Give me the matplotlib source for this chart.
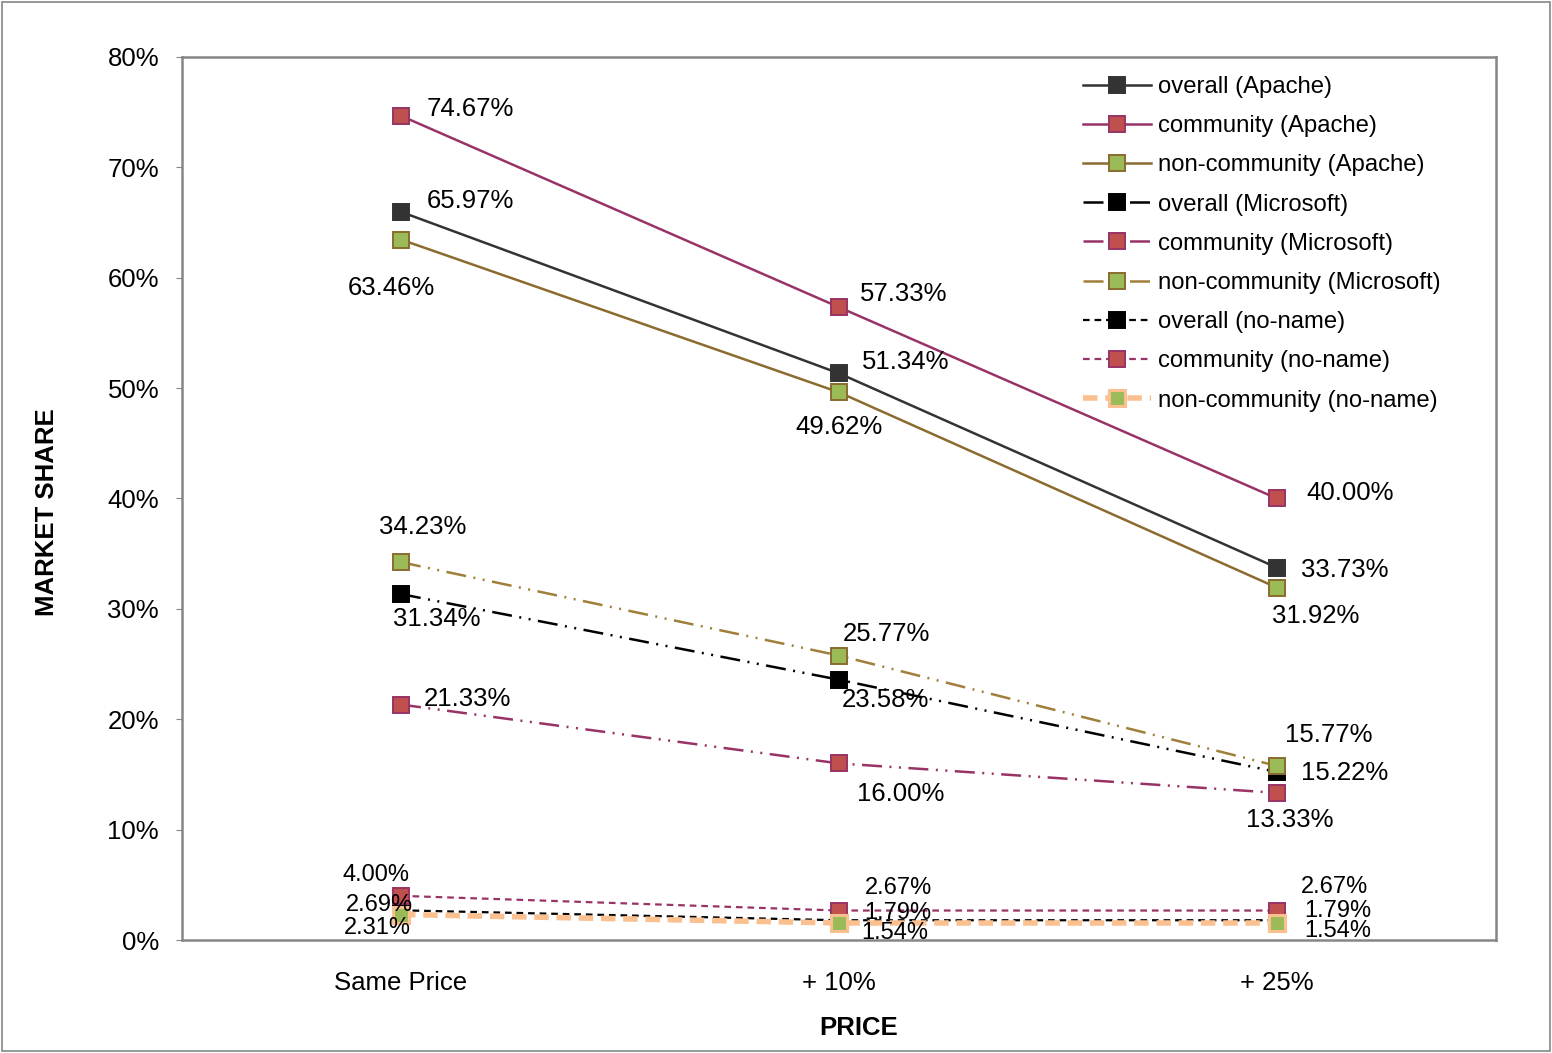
import matplotlib
matplotlib.use("Agg")
import matplotlib.pyplot as plt
from matplotlib.patches import Rectangle

plt.rcParams['font.family'] = ['Liberation Sans', 'DejaVu Sans']

categories = ["Same Price", "+ 10%", "+ 25%"]
series_names = ["overall (Apache)", "community (Apache)", "non-community (Apache)",
                "overall (Microsoft)", "community (Microsoft)", "non-community (Microsoft)",
                "overall (no-name)", "community (no-name)", "non-community (no-name)"]
overall_apache = [65.97, 51.34, 33.73]
community_apache = [74.67, 57.33, 40.00]
noncommunity_apache = [63.46, 49.62, 31.92]
overall_ms = [31.34, 23.58, 15.22]
community_ms = [21.33, 16.00, 13.33]
noncommunity_ms = [34.23, 25.77, 15.77]
overall_noname = [2.69, 1.79, 1.79]
community_noname = [4.00, 2.67, 2.67]
noncommunity_noname = [2.31, 1.54, 1.54]
values = [overall_apache, community_apache, noncommunity_apache,
          overall_ms, community_ms, noncommunity_ms,
          overall_noname, community_noname, noncommunity_noname]

dd = (0, (8, 3, 0.8, 3, 0.8, 3))
styles = [
    dict(color="#333333", ls="-", lw=1.8, mfc="#333333", mec="#333333", mew=1.4),
    dict(color="#993366", ls="-", lw=1.8, mfc="#C0504D", mec="#993366", mew=1.4),
    dict(color="#8B6B2E", ls="-", lw=1.8, mfc="#9BBB59", mec="#8B6B2E", mew=1.4),
    dict(color="#000000", ls=dd, lw=1.8, mfc="#000000", mec="#000000", mew=1.4),
    dict(color="#993366", ls=dd, lw=1.8, mfc="#C0504D", mec="#993366", mew=1.4),
    dict(color="#A07F3A", ls=dd, lw=1.8, mfc="#9BBB59", mec="#8B6B2E", mew=1.4),
    dict(color="#000000", ls=(0, (3, 2.2)), lw=1.6, mfc="#000000", mec="#000000", mew=1.4),
    dict(color="#993366", ls=(0, (3, 2.2)), lw=1.6, mfc="#C0504D", mec="#993366", mew=1.4),
    dict(color="#FAC090", ls=(0, (2.6, 1.4)), lw=4.0, mfc="#9BBB59", mec="#FAC090", mew=2.2),
]

# label offsets in pixels (ha, dx, dy) and font size
offsets = [
    [("left", 26, 11, 18.5), ("left", 23, 11, 18.5), ("left", 24, -2, 18.5)],
    [("left", 26, 7, 18.5), ("left", 21, 13, 18.5), ("left", 29, 5, 18.5)],
    [("center", -10, -48, 18.5), ("center", 0, -35, 18.5), ("center", 39, -28, 18.5)],
    [("center", 36, -25, 18.5), ("center", 46, -20, 18.5), ("left", 24, -1, 18.5)],
    [("left", 23, 6, 18.5), ("center", 62, -31, 18.5), ("center", 13, -27, 18.5)],
    [("center", 22, 35, 18.5), ("center", 47, 22, 18.5), ("center", 52, 31, 18.5)],
    [("center", -22, 5, 17), ("center", 59, 7, 17), ("center", 61, 9, 17)],
    [("center", -25, 21, 17), ("center", 59, 23, 17), ("center", 58, 24, 17)],
    [("center", -24, -13, 17), ("center", 56, -10, 17), ("center", 61, -8, 17)],
]

fig = plt.figure(figsize=(15.52, 10.53), dpi=100)
ax = fig.add_axes([182 / 1552, 1 - 940 / 1053, 1314 / 1552, 883 / 1053])
x = list(range(len(categories)))

for name, vals, st, offs in zip(series_names, values, styles, offsets):
    ax.plot(x, vals, color=st["color"], linestyle=st["ls"], linewidth=st["lw"],
            marker="s", markersize=11, markerfacecolor=st["mfc"],
            markeredgecolor=st["mec"], markeredgewidth=st["mew"], label=name)
    for xi, v, (ha, dx, dy, fs) in zip(x, vals, offs):
        ax.annotate(f"{v:.2f}%", (xi, v), xytext=(dx, dy), textcoords="offset pixels",
                    ha=ha, va="center", fontsize=fs, color="black")

ax.set_xlim(-0.5, 2.5)
ax.set_ylim(0, 80)
ax.set_yticks(range(0, 81, 10))
ax.set_yticklabels([f"{t}%" for t in range(0, 81, 10)])
ax.set_xticks(x)
ax.set_xticklabels(categories)
ax.tick_params(axis="y", labelsize=18.5, length=4.5, color="#868686", pad=12)
ax.tick_params(axis="x", labelsize=18.5, length=0, pad=22)
for sp in ax.spines.values():
    sp.set_color("#868686")
    sp.set_linewidth(1.8)

fig.text(47 / 1552, 1 - 512 / 1053, "MARKET SHARE", rotation=90, ha="center", va="center",
         fontsize=18.5, fontweight="bold")
fig.text(859 / 1552, 1 - 1028 / 1053, "PRICE", ha="center", va="center",
         fontsize=18.5, fontweight="bold")

leg = ax.legend(loc="upper left", bbox_to_anchor=(1083 / 1552, 1 - 76 / 1053),
                bbox_transform=fig.transFigure, frameon=False, fontsize=17.2,
                handlelength=2.85, handletextpad=0.28, labelspacing=0.72,
                borderpad=0, borderaxespad=0)

fig.patches.append(Rectangle((0.0015, 0.0015), 0.997, 0.997, transform=fig.transFigure,
                             fill=False, edgecolor="#868686", linewidth=1.2))

fig.savefig("out.png", dpi=100)
